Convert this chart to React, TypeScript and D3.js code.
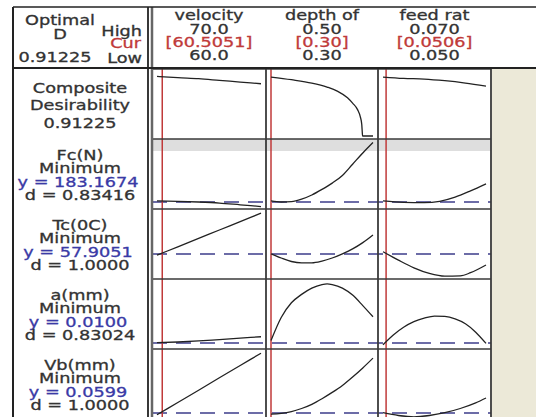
import React from "react";
import * as d3 from "d3";

// ---------- data ----------
const factorNames = ["velocity", "depth of", "feed rat"];
const factorLow = [60, 0.3, 0.05];
const factorHigh = [70, 0.5, 0.07];
const factorCur = [60.5051, 0.3, 0.0506];
const highLabels = ["70.0", "0.50", "0.070"];
const curLabels = ["[60.5051]", "[0.30]", "[0.0506]"];
const lowLabels = ["60.0", "0.30", "0.050"];

const compositeLabel = ["Composite", "Desirability", "0.91225"];
const responseNames = ["Fc(N)", "Tc(0C)", "a(mm)", "Vb(mm)"];
const responseGoals = ["Minimum", "Minimum", "Minimum", "Minimum"];
const responseY = ["y = 183.1674", "y = 57.9051", "y = 0.0100", "y = 0.0599"];
const responseD = ["d = 0.83416", "d = 1.0000", "d = 0.83024", "d = 1.0000"];
// relative response level (0-100 of the panel) of the optimum, drawn dashed
const targetLevel = [10, 35.7, 8.6, 8.6];

// composite desirability (0-1) curves
const compVel: [number, number][] = [[60, 0.92], [62, 0.9], [64, 0.885], [66, 0.86], [68, 0.835], [70, 0.81]];
const compDepth: [number, number][] = [[0.3, 0.91], [0.34, 0.87], [0.38, 0.82], [0.41, 0.76], [0.43, 0.7], [0.45, 0.6], [0.46, 0.52], [0.47, 0.42], [0.475, 0.32], [0.478, 0.2], [0.479, 0.08], [0.4795, 0.03], [0.5, 0.03]];
const compFeed: [number, number][] = [[0.05, 0.91], [0.054, 0.89], [0.058, 0.88], [0.062, 0.855], [0.066, 0.82], [0.07, 0.775]];

// responses (relative 0-100 within each panel)
const fcVel: [number, number][] = [[60, 11.5], [62, 11], [64, 10], [66, 8.5], [68, 6], [70, 3.5]];
const fcDepth: [number, number][] = [[0.3, 11.5], [0.32, 10], [0.34, 10.5], [0.36, 14], [0.38, 20], [0.4, 28], [0.42, 37], [0.44, 48], [0.46, 64], [0.48, 80], [0.5, 95]];
const fcFeed: [number, number][] = [[0.05, 11.5], [0.054, 9.5], [0.058, 9], [0.061, 11], [0.064, 17], [0.067, 26], [0.07, 36]];

const tcVel: [number, number][] = [[60, 34], [62, 46], [64, 58], [66, 70], [68, 82], [70, 94]];
const tcDepth: [number, number][] = [[0.3, 36], [0.32, 30], [0.34, 25], [0.36, 23], [0.38, 23], [0.4, 25.5], [0.42, 30], [0.44, 36], [0.46, 43], [0.48, 52], [0.5, 63]];
const tcFeed: [number, number][] = [[0.05, 39], [0.053, 27], [0.056, 16], [0.059, 8], [0.062, 4], [0.065, 4.5], [0.067, 9], [0.07, 20]];

const aVel: [number, number][] = [[60, 9], [62, 10], [64, 11.5], [66, 13.5], [68, 15.5], [70, 17.5]];
const aDepth: [number, number][] = [[0.3, 12], [0.32, 45], [0.34, 66], [0.36, 78], [0.38, 87], [0.4, 92], [0.41, 93], [0.42, 92], [0.44, 87], [0.46, 77], [0.48, 62], [0.5, 46]];
const aFeed: [number, number][] = [[0.05, 6], [0.052, 20], [0.054, 31], [0.056, 39], [0.058, 44], [0.06, 47], [0.062, 46.5], [0.064, 43], [0.066, 36], [0.068, 24], [0.07, 8]];

const vbVel: [number, number][] = [[60, 6], [62, 23.5], [64, 41], [66, 59], [68, 76.5], [70, 94]];
const vbDepth: [number, number][] = [[0.3, 7], [0.32, 8], [0.34, 10.5], [0.36, 15], [0.38, 21], [0.4, 29], [0.42, 38], [0.44, 48], [0.46, 60], [0.48, 73], [0.5, 87]];
const vbFeed: [number, number][] = [[0.05, 9], [0.053, 5], [0.056, 3], [0.059, 5], [0.062, 9], [0.065, 15], [0.068, 23], [0.07, 30]];

const compositeCurves = [compVel, compDepth, compFeed];
const responseCurves = [
  [fcVel, fcDepth, fcFeed],
  [tcVel, tcDepth, tcFeed],
  [aVel, aDepth, aFeed],
  [vbVel, vbDepth, vbFeed],
];

// ---------- layout ----------
const W = 536;
const H = 417;
const headerTop = 7;
const headerBottom = 68;
const rowTops = [69, 139, 209, 279, 349];
const rowH = 70;
const colEdges = [152, 266, 378, 491];
const pad = 5;
const labelLeft = 13;
const labelRight = 148;
const labelCx = 80;

const FONT = "DejaVu Sans, Verdana, sans-serif";
const TXT = "#333";
const RED = "#c03a3a";
const BLUE = "#3a3aa6";
const SX = 1.34;

function T({ x, y, children, fill = TXT, anchor = "middle" }: any) {
  return (
    <text
      transform={`translate(${x},${y}) scale(${SX},1)`}
      textAnchor={anchor}
      fontFamily={FONT}
      fontSize={13.2}
      fill={fill}
      stroke={fill}
      strokeWidth={0.3}
    >
      {children}
    </text>
  );
}

export default function App() {
  const xScales = factorNames.map((_, i) =>
    d3.scaleLinear().domain([factorLow[i], factorHigh[i]]).range([colEdges[i] + pad, colEdges[i + 1] - pad])
  );
  const compY = d3.scaleLinear().domain([0, 1]).range([rowTops[0] + rowH - 1, rowTops[0] + 2]);
  const respY = responseNames.map((_, r) =>
    d3.scaleLinear().domain([0, 100]).range([rowTops[r + 1] + rowH, rowTops[r + 1]])
  );
  const lineFor = (xs: d3.ScaleLinear<number, number>, ys: d3.ScaleLinear<number, number>) =>
    d3
      .line<[number, number]>()
      .x((d) => xs(d[0]))
      .y((d) => ys(d[1]))
      .curve(d3.curveMonotoneX);

  const gridColor = "#3a3a3a";

  return (
    <svg width={W} height={H} style={{ position: "absolute", left: 0, top: 0, display: "block" }}>
      <rect x={0} y={0} width={W} height={H} fill="#fff" />
      {/* beige side area */}
      <rect x={colEdges[3] + 1} y={headerBottom + 1} width={W - colEdges[3]} height={H} fill="#ece9d8" />
      {/* grey band at top of first response */}
      <rect x={colEdges[0]} y={rowTops[1]} width={colEdges[3] - colEdges[0]} height={12} fill="#dedede" />

      {/* dashed optimum lines */}
      {responseNames.map((_, r) => (
        <line
          key={"dash" + r}
          x1={colEdges[0]}
          x2={colEdges[3]}
          y1={respY[r](targetLevel[r])}
          y2={respY[r](targetLevel[r])}
          stroke="#3d3d8a"
          strokeWidth={1.5}
          strokeDasharray="15 9"
        />
      ))}

      {/* red current-setting lines */}
      {factorNames.map((_, i) => (
        <line
          key={"red" + i}
          x1={xScales[i](factorCur[i])}
          x2={xScales[i](factorCur[i])}
          y1={rowTops[0]}
          y2={H}
          stroke={RED}
          strokeWidth={1.5}
        />
      ))}

      {/* curves */}
      {compositeCurves.map((c, i) => (
        <path key={"cc" + i} d={lineFor(xScales[i], compY)(c) || ""} fill="none" stroke="#222" strokeWidth={1.3} />
      ))}
      {responseCurves.map((row, r) =>
        row.map((c, i) => (
          <path
            key={"rc" + r + "-" + i}
            d={lineFor(xScales[i], respY[r])(c) || ""}
            fill="none"
            stroke="#222"
            strokeWidth={1.3}
          />
        ))
      )}

      {/* panel grid */}
      {rowTops.map((y, k) => (
        <line key={"h" + k} x1={colEdges[0]} x2={colEdges[3]} y1={y} y2={y} stroke={gridColor} strokeWidth={1.5} />
      ))}
      {colEdges.map((x, k) => (
        <line
          key={"v" + k}
          x1={x}
          x2={x}
          y1={k === 0 ? headerTop : headerBottom}
          y2={H}
          stroke={k === 0 ? "#666" : gridColor}
          strokeWidth={k === 0 ? 2.5 : 1.8}
        />
      ))}

      {/* header frame */}
      <line x1={labelLeft} x2={W} y1={headerTop} y2={headerTop} stroke="#222" strokeWidth={1.5} />
      <line x1={labelLeft} x2={W} y1={headerBottom} y2={headerBottom} stroke="#222" strokeWidth={1.8} />
      <line x1={labelLeft} x2={labelLeft} y1={headerTop} y2={H} stroke="#222" strokeWidth={2} />
      <line x1={labelRight} x2={labelRight} y1={headerTop} y2={H} stroke="#222" strokeWidth={1.8} />

      {/* header left */}
      <T x={60} y={25}>Optimal</T>
      <T x={60} y={39}>D</T>
      <T x={55} y={62}>0.91225</T>
      <T x={142} y={36} anchor="end">High</T>
      <T x={141} y={48} anchor="end" fill={RED}>Cur</T>
      <T x={142} y={63} anchor="end">Low</T>

      {/* factor headers */}
      {factorNames.map((n, i) => {
        const cx = (colEdges[i] + colEdges[i + 1]) / 2;
        return (
          <g key={"fh" + i}>
            <T x={cx} y={20}>{n}</T>
            <T x={cx} y={34}>{highLabels[i]}</T>
            <T x={cx} y={47} fill={RED}>{curLabels[i]}</T>
            <T x={cx} y={60}>{lowLabels[i]}</T>
          </g>
        );
      })}

      {/* row labels */}
      <T x={labelCx} y={93}>{compositeLabel[0]}</T>
      <T x={labelCx} y={110}>{compositeLabel[1]}</T>
      <T x={labelCx} y={128}>{compositeLabel[2]}</T>
      {responseNames.map((n, r) => {
        const top = rowTops[r + 1];
        return (
          <g key={"rl" + r}>
            <T x={labelCx} y={top + 21}>{n}</T>
            <T x={labelCx} y={top + 34}>{responseGoals[r]}</T>
            <T x={labelCx - 2} y={top + 48} fill={BLUE}>{responseY[r]}</T>
            <T x={labelCx} y={top + 61}>{responseD[r]}</T>
          </g>
        );
      })}
    </svg>
  );
}
